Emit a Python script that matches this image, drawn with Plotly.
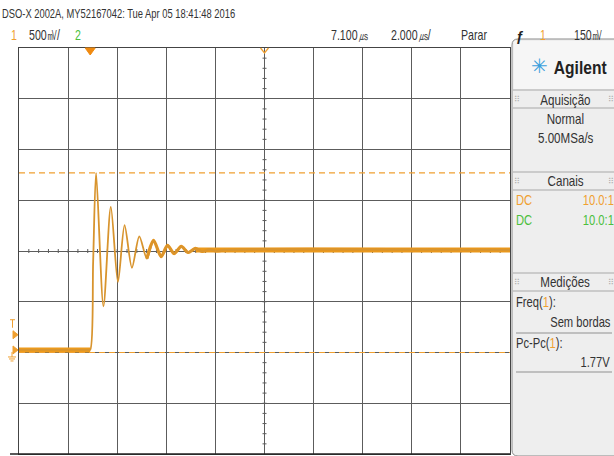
import json
import plotly.graph_objects as go

# ---------------- data (read from the screen) ----------------
# channel 1 waveform: time in microseconds, voltage in volts
t_us = [-2.9, -0.1, 0.0, 0.12, 0.24, 0.54, 0.84, 1.13, 1.40, 1.70, 2.00, 2.31,
        2.58, 2.89, 3.15, 3.42, 3.71, 3.99, 4.28, 4.56, 4.85, 5.13, 5.5, 17.1]
v_ch1 = [0.0, 0.0, 0.0, 0.87, 1.745, 0.43, 1.41, 0.67, 1.23, 0.81, 1.12, 0.90,
         1.08, 0.92, 1.03, 0.95, 1.02, 0.96, 1.00, 0.97, 0.99, 0.975, 0.985, 0.985]
# thick (persistent) flat portions
base_t = [-2.9, 0.0]
base_v = [0.0, 0.0]
settle_t = [4.3, 17.1]
settle_v = [0.985, 0.985]
tail_start_us = 2.2
# Pc-Pc measurement cursors (V)
cursor_levels = [1.745, -0.025]
trigger_level = 0.15

# scope settings
time_center = 7.1      # us
time_per_div = 2.0     # us/div
volt_per_div = 0.5     # V/div
volt_center = 0.975    # V at screen centre

header = "DSO-X 2002A, MY52167042: Tue Apr 05 18:41:48 2016"
status_labels = ["500\u33B7/", "7.100\u33B2", "2.000\u33B2/", "Parar", "150\u33B7"]
panel_sections = ["Aquisição", "Canais", "Medições"]
acq_lines = ["Normal", "5.00MSa/s"]
channel_rows = [("DC", "10.0:1", "#f0a030"), ("DC", "10.0:1", "#4cbf3c")]
meas_rows = [("Freq(", "1", "):", "Sem bordas"), ("Pc-Pc(", "1", "):", "1.77V")]

# ---------------- geometry ----------------
W, H = 614, 456
L, R, T, B = 19, 510, 48, 454

def px(x):
    return (x - L) / (R - L)

def py(y):
    return (B - y) / (B - T)

x0 = time_center - 5 * time_per_div
x1 = time_center + 5 * time_per_div
y0 = volt_center - 4 * volt_per_div
y1 = volt_center + 4 * volt_per_div

ORANGE = "#ec9a1c"
GRID = "#5c5c5c"
FONT = "Liberation Sans, Arial, sans-serif"

fig = go.Figure()

# graticule minor ticks on centre lines
tx, ty = [], []
dx_px = 2 * (x1 - x0) / (R - L)   # 2 px in x units
dy_px = 2 * (y1 - y0) / (B - T)   # 2 px in y units
for k in range(-20, 21):
    yy = volt_center + k * volt_per_div / 5
    if y0 < yy < y1:
        tx += [time_center - dx_px, time_center + dx_px, None]
        ty += [yy, yy, None]
for k in range(-25, 26):
    xx = time_center + k * time_per_div / 5
    if x0 < xx < x1:
        tx += [xx, xx, None]
        ty += [volt_center - dy_px, volt_center + dy_px, None]
fig.add_trace(go.Scatter(x=tx, y=ty, mode="lines", line=dict(color=GRID, width=1),
                         hoverinfo="skip", showlegend=False))

# waveform
fig.add_trace(go.Scatter(x=base_t, y=base_v, mode="lines",
                         line=dict(color=ORANGE, width=5), showlegend=False))
fig.add_trace(go.Scatter(x=settle_t, y=settle_v, mode="lines",
                         line=dict(color=ORANGE, width=5), showlegend=False))
tail = [(t, v) for t, v in zip(t_us, v_ch1) if t >= tail_start_us]
fig.add_trace(go.Scatter(x=[p[0] for p in tail], y=[p[1] for p in tail], mode="lines",
                         line=dict(color="#e6951f", width=3.2, shape="spline", smoothing=0.8),
                         showlegend=False))
fig.add_trace(go.Scatter(x=t_us, y=v_ch1, mode="lines",
                         line=dict(color="#d8942e", width=1.8, shape="spline", smoothing=0.8),
                         showlegend=False))

shapes = []
# measurement cursors
for lv in cursor_levels:
    shapes.append(dict(type="line", xref="paper", yref="y", x0=0, x1=1, y0=lv, y1=lv,
                       line=dict(color="#f0a030", width=1.2, dash="6px,4px")))

# bottom heavy line extending left
shapes.append(dict(type="line", xref="paper", yref="paper", x0=px(10), x1=px(R),
                   y0=py(B), y1=py(B), line=dict(color="#222", width=1.5)))

# trigger time marker (filled triangle at t=0)
tpx = L + (0 - x0) / (x1 - x0) * (R - L)
shapes.append(dict(type="path", xref="paper", yref="paper",
                   path=f"M {px(tpx-5)} {py(48)} L {px(tpx+5)} {py(48)} L {px(tpx)} {py(55)} Z",
                   fillcolor="#f08a10", line=dict(color="#f08a10", width=1)))
# delay marker at centre top
cx = (L + R) / 2
shapes.append(dict(type="path", xref="paper", yref="paper",
                   path=f"M {px(cx-4)} {py(48)} L {px(cx)} {py(53)} L {px(cx+4)} {py(48)}",
                   line=dict(color="#f0a030", width=1.3)))

def vy(v):
    return B - (v - y0) / (y1 - y0) * (B - T)

# left markers: trigger level and ground
for vv in (trigger_level, 0.0):
    yy = vy(vv)
    shapes.append(dict(type="path", xref="paper", yref="paper",
                       path=f"M {px(13)} {py(yy-4)} L {px(18)} {py(yy)} L {px(13)} {py(yy+4)} Z",
                       fillcolor="#f0a030", line=dict(color="#f0a030", width=1)))
gy = vy(0.0)
shapes.append(dict(type="line", xref="paper", yref="paper", x0=px(12), x1=px(12),
                   y0=py(gy+2), y1=py(gy+7), line=dict(color="#f0a030", width=1)))
for i, w in enumerate([4, 3, 1.5]):
    shapes.append(dict(type="line", xref="paper", yref="paper", x0=px(12-w), x1=px(12+w),
                       y0=py(gy+7+2*i), y1=py(gy+7+2*i), line=dict(color="#f0a030", width=1)))
ty_ = vy(trigger_level) - 11
shapes.append(dict(type="line", xref="paper", yref="paper", x0=px(10), x1=px(15),
                   y0=py(ty_-4), y1=py(ty_-4), line=dict(color="#f0a030", width=1)))
shapes.append(dict(type="line", xref="paper", yref="paper", x0=px(12.5), x1=px(12.5),
                   y0=py(ty_-4), y1=py(ty_+4), line=dict(color="#f0a030", width=1)))

# right panel
pl, pr_, pt, pb, rr = 512, 618, 39, 456, 6
path = (f"M {px(pl)} {py(pt+rr)} Q {px(pl)} {py(pt)} {px(pl+rr)} {py(pt)} "
        f"L {px(pr_)} {py(pt)} L {px(pr_)} {py(pb)} L {px(pl+rr)} {py(pb)} "
        f"Q {px(pl)} {py(pb)} {px(pl)} {py(pb-rr)} Z")
shapes.append(dict(type="path", xref="paper", yref="paper", path=path,
                   fillcolor="#eeeeee", line=dict(color="#8a8a8a", width=1)))
shapes.append(dict(type="rect", xref="paper", yref="paper", x0=px(514), x1=px(616),
                   y0=py(89), y1=py(41), fillcolor="#f6f6f6", line=dict(width=0)))
for (a, b) in [(90, 108), (172, 190), (273, 291)]:
    for yy in (a, b):
        shapes.append(dict(type="line", xref="paper", yref="paper", x0=px(513), x1=px(616),
                           y0=py(yy), y1=py(yy), line=dict(color="#a8a8a8", width=1)))
for yy in (333, 372):
    shapes.append(dict(type="line", xref="paper", yref="paper", x0=px(516), x1=px(612),
                       y0=py(yy), y1=py(yy), line=dict(color="#909090", width=1)))

anns = []
squeeze = []
def ann(text, x, y, size=12, color="#333", anchor="left", family=FONT, bold=False, sx=1.0):
    if bold:
        text = f"<b>{text}</b>"
    anns.append(dict(text=text, x=px(x), y=py(y), xref="paper", yref="paper",
                     xanchor=anchor, align=anchor, yanchor="middle", showarrow=False,
                     font=dict(size=size, color=color, family=family)))
    squeeze.append([sx, anchor])

HS = 0.76
ann(header, 0, 14, size=12.5, color="#333", sx=0.75)
ann("1", 9, 35, 14, "#f0a030", sx=HS)
ann(status_labels[0], 27, 35, 14, "#333", sx=HS)
ann("2", 73, 35, 14, "#4cbf3c", sx=HS)
ann(status_labels[1], 329, 35, 14, "#333", sx=HS)
ann(status_labels[2], 389, 35, 14, "#333", sx=HS)
ann(status_labels[3], 459, 35, 14, "#333", sx=HS)
ann("ƒ", 514, 36, 14, "#222", bold=True)
ann("1", 538, 35, 14, "#f0a030", sx=HS)
ann(status_labels[4], 572, 35, 14, "#333", sx=HS)

# panel contents
ann("✳", 539, 66, 20, "#3aa0dc", anchor="center", family="DejaVu Sans")
ann("Agilent", 580, 67, 19, "#222", anchor="center", bold=True, sx=0.82)
PS = 0.8
for name, yy in zip(panel_sections, [100, 181, 282]):
    ann(name, 565, yy, 14.5, "#333", anchor="center", sx=PS)
    ann("⠿", 517, yy, 8, "#b0b0b0", anchor="center", family="DejaVu Sans")
    ann("⠿", 611, yy, 8, "#b0b0b0", anchor="center", family="DejaVu Sans")
for line, yy in zip(acq_lines, [119, 138]):
    ann(line, 565, yy, 14.5, "#333", anchor="center", sx=PS)
for (lbl, ratio, col), yy in zip(channel_rows, [200, 220]):
    ann(lbl, 514, yy, 14, col, sx=PS)
    ann(ratio, 616, yy, 14, col, anchor="right", sx=PS)
for (a, n, b, val), (y_lbl, y_val) in zip(meas_rows, [(302, 322), (343, 362)]):
    ann(f"{a}<span style='color:#f0a030'>{n}</span>{b}", 514, y_lbl, 14, "#333", sx=PS)
    ann(val, 612, y_val, 14, "#333", anchor="right", sx=PS)

fig.update_layout(
    width=W, height=H,
    margin=dict(l=L, r=W - R, t=T, b=H - B),
    paper_bgcolor="white", plot_bgcolor="white",
    shapes=shapes, annotations=anns, showlegend=False,
    xaxis=dict(range=[x0, x1], dtick=time_per_div, tick0=x0, showgrid=True,
               gridcolor=GRID, gridwidth=1, showticklabels=False, ticks="",
               zeroline=False, showline=True, mirror=True, linecolor="#444", linewidth=1,
               fixedrange=True),
    yaxis=dict(range=[y0, y1], dtick=volt_per_div, tick0=y0, showgrid=True,
               gridcolor=GRID, gridwidth=1, showticklabels=False, ticks="",
               zeroline=False, showline=True, mirror=True, linecolor="#444", linewidth=1,
               fixedrange=True),
)

post = """
var gd = document.getElementById('{plot_id}');
var SQ = %s;
function squeezeText(){
  var groups = gd.querySelectorAll('g.annotation');
  groups.forEach(function(g){
    var i = parseInt(g.getAttribute('data-index'));
    var s = SQ[i];
    if (!s || s[0] === 1) return;
    var t = g.querySelector('text.annotation-text');
    if (!t) return;
    t.style.transformBox = 'fill-box';
    t.style.transformOrigin = s[1] + ' center';
    t.style.transform = 'scaleX(' + s[0] + ')';
  });
}
squeezeText();
gd.on('plotly_afterplot', squeezeText);
""" % json.dumps(squeeze)

fig.write_html("out.html", post_script=post)
